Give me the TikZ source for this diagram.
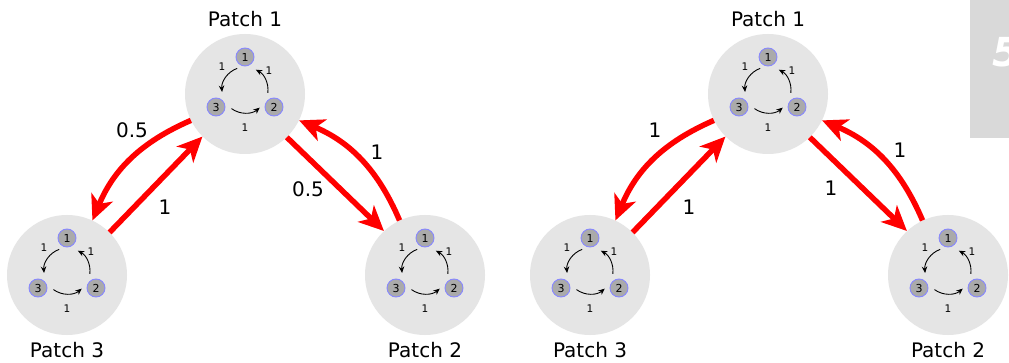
\documentclass[tikz,border=0pt]{standalone}
\usepackage{fontspec}
\setmainfont{DejaVu Sans}
\usetikzlibrary{arrows.meta}

\definecolor{patchgrey}{RGB}{229,229,229}
\definecolor{agentfill}{RGB}{170,170,170}
\definecolor{agentedge}{RGB}{135,135,255}
\definecolor{tabgrey}{RGB}{217,217,217}
\definecolor{flowred}{RGB}{255,0,0}

\tikzset{
  patch/.style={circle, fill=patchgrey, minimum size=120pt, inner sep=0pt},
  agent/.style={circle, fill=agentfill, draw=agentedge, line width=0.9pt,
    minimum size=18pt, inner sep=0pt, font=\fontsize{11}{11}\selectfont},
  moveflow/.style={draw=flowred, line width=5.5pt,
    -{Stealth[length=25pt, width=23pt, inset=7pt]}},
  contact/.style={black, line width=0.9pt, -{Stealth[length=6.5pt, width=5.5pt]}},
  ratesmall/.style={font=\fontsize{10.5}{10.5}\selectfont},
  ratebig/.style={font=\fontsize{20}{20}\selectfont},
  patchname/.style={font=\fontsize{20}{20}\selectfont},
  % one patch: grey disc with three agents and their contact cycle
  patchnet/.pic={
    \node[patch] (-c) at (0,0) {};
    \node[agent] (-a1) at (0,37) {1};
    \node[agent] (-a2) at (29,-13) {2};
    \node[agent] (-a3) at (-29,-13) {3};
    \draw[contact] ([shift={(110:23)}]0,4) arc[start angle=110, end angle=185, radius=23];
    \draw[contact] ([shift={(234:23)}]0,4) arc[start angle=234, end angle=310, radius=23];
    \draw[contact] ([shift={(-7:23)}]0,4) arc[start angle=-7, end angle=62, radius=23];
    \node[ratesmall] (-r13) at (-23,27) {1};
    \node[ratesmall] (-r21) at (24,23) {1};
    \node[ratesmall] (-r32) at (0,-34) {1};
  }
}

\begin{document}
\begin{tikzpicture}[x=1pt,y=1pt]
  \useasboundingbox (0,0) rectangle (1009,-363);
  \fill[white] (0,0) rectangle (1009,-363);

  % page tab in the corner
  \fill[tabgrey] (970,0) rectangle (1009,-138);
  \node[text=white, font=\fontsize{40}{40}\selectfont\bfseries\itshape,
    anchor=west, inner sep=0pt] (tab) at (992,-52) {5};

  % ---- left network ----
  \pic (L1) at (245,-94) {patchnet};
  \pic (L2) at (425,-275) {patchnet};
  \pic (L3) at (67,-275) {patchnet};

  \node[patchname] (L1name) at (245,-19) {Patch 1};
  \node[patchname] (L2name) at (425,-350) {Patch 2};
  \node[patchname] (L3name) at (67,-350) {Patch 3};

  \draw[moveflow] (L3-c.45.7) -- (L1-c.225.7);
  \draw[moveflow] (L1-c.206) to[bend right=22] (L3-c.65.5);
  \draw[moveflow] (L1-c.314.3) -- (L2-c.133.7);
  \draw[moveflow] (L2-c.115.4) to[bend right=22] (L1-c.334);

  \node[ratebig] (Lm13) at (132,-130) {0.5};
  \node[ratebig] (Lm31) at (165,-207) {1};
  \node[ratebig] (Lm12) at (308,-189) {0.5};
  \node[ratebig] (Lm21) at (377,-152) {1};

  % ---- right network ----
  \pic (R1) at (768,-94) {patchnet};
  \pic (R2) at (948,-275) {patchnet};
  \pic (R3) at (590,-275) {patchnet};

  \node[patchname] (R1name) at (768,-19) {Patch 1};
  \node[patchname] (R2name) at (948,-350) {Patch 2};
  \node[patchname] (R3name) at (590,-350) {Patch 3};

  \draw[moveflow] (R3-c.45.7) -- (R1-c.225.7);
  \draw[moveflow] (R1-c.206) to[bend right=22] (R3-c.65.5);
  \draw[moveflow] (R1-c.314.3) -- (R2-c.133.7);
  \draw[moveflow] (R2-c.115.4) to[bend right=22] (R1-c.334);

  \node[ratebig] (Rm13) at (655,-130) {1};
  \node[ratebig] (Rm31) at (689,-207) {1};
  \node[ratebig] (Rm12) at (831,-188) {1};
  \node[ratebig] (Rm21) at (900,-150) {1};
\end{tikzpicture}
\end{document}
